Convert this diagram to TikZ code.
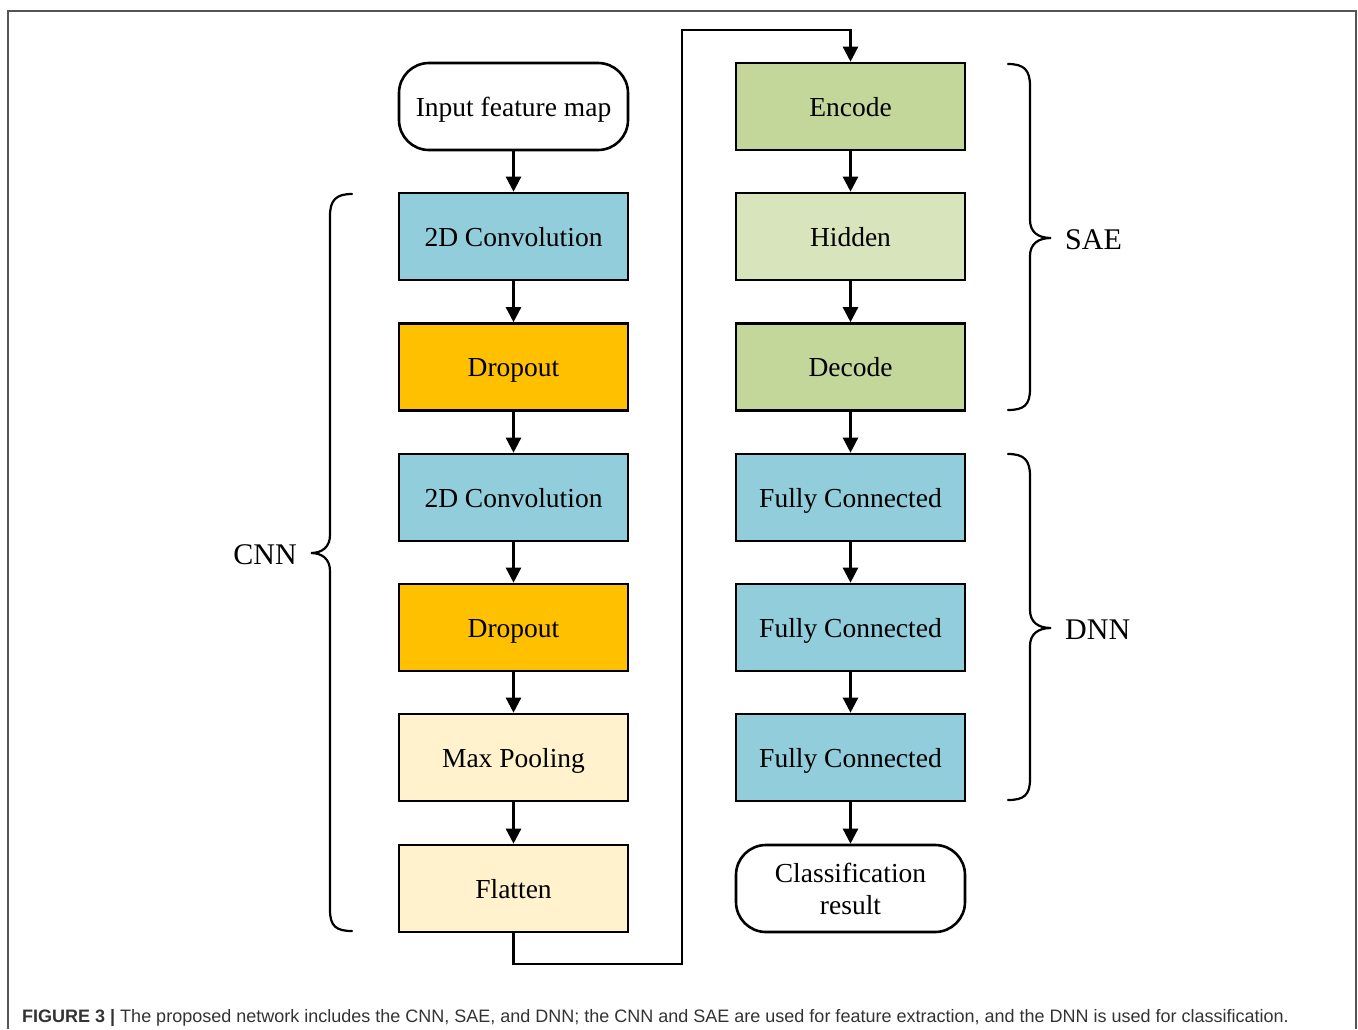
\documentclass[tikz,border=0pt]{standalone}
\usepackage{fontspec}
\setmainfont{Liberation Serif}
\newfontfamily\capfont{Liberation Sans}
\usetikzlibrary{arrows.meta}

\definecolor{convblue}{HTML}{92CDDC}
\definecolor{dropgold}{HTML}{FFC000}
\definecolor{poolcream}{HTML}{FFF2CC}
\definecolor{codegreen}{HTML}{C4D79B}
\definecolor{hidgreen}{HTML}{D8E4BC}
\definecolor{framegray}{HTML}{555555}
\definecolor{captext}{HTML}{333333}

\tikzset{
  shell/.style={draw=black, line width=2.6pt, minimum width=229pt, minimum height=87pt,
    inner sep=0pt, align=center, font=\fontsize{27.5}{33}\selectfont},
  layer/.style={shell, text height=21pt, text depth=2pt},
  terminal/.style={shell, rounded corners=30pt, fill=white},
  flow/.style={line width=2.4pt, -{Triangle[length=15pt,width=15pt]}},
  bracepath/.style={line width=2.2pt, line cap=round},
  grouplabel/.style={font=\fontsize{30}{36}\selectfont, inner sep=0pt}
}

\begin{document}
\begin{tikzpicture}[x=1pt, y=-1pt]
\useasboundingbox (0,0) rectangle (1358,1029);

% frame around the figure
\draw[framegray, line width=1.6pt] (8,1029) -- (8,11) -- (1356,11) -- (1356,1029);

% left column: CNN
\node[terminal, text height=21pt, text depth=2pt] (inp) at (513.5,106.5) {Input feature map};
\node[layer, fill=convblue]  (conv1) at (513.5,236.5) {2D Convolution};
\node[layer, fill=dropgold]  (drop1) at (513.5,367)   {Dropout};
\node[layer, fill=convblue]  (conv2) at (513.5,497.5) {2D Convolution};
\node[layer, fill=dropgold]  (drop2) at (513.5,627.5) {Dropout};
\node[layer, fill=poolcream] (pool)  at (513.5,757.5) {Max Pooling};
\node[layer, fill=poolcream] (flat)  at (513.5,888.5) {Flatten};

% right column: SAE and DNN
\node[layer, fill=codegreen] (enc) at (850.5,106.5) {Encode};
\node[layer, fill=hidgreen]  (hid) at (850.5,236.5) {Hidden};
\node[layer, fill=codegreen] (dec) at (850.5,367)   {Decode};
\node[layer, fill=convblue]  (fc1) at (850.5,497.5) {Fully Connected};
\node[layer, fill=convblue]  (fc2) at (850.5,627.5) {Fully Connected};
\node[layer, fill=convblue]  (fc3) at (850.5,757.5) {Fully Connected};
\node[terminal] (res) at (850.5,888.5) {Classification\\[-1pt]result};

% connectors
\draw[flow] (inp) -- (conv1);
\draw[flow] (conv1) -- (drop1);
\draw[flow] (drop1) -- (conv2);
\draw[flow] (conv2) -- (drop2);
\draw[flow] (drop2) -- (pool);
\draw[flow] (pool) -- (flat);
\coordinate (lo) at (682,964);
\coordinate (hi) at (682,30);
\draw[flow] (flat.south) |- (lo) -- (hi) -| (enc.north);
\draw[flow] (enc) -- (hid);
\draw[flow] (hid) -- (dec);
\draw[flow] (dec) -- (fc1);
\draw[flow] (fc1) -- (fc2);
\draw[flow] (fc2) -- (fc3);
\draw[flow] (fc3) -- (res);

% braces
\draw[bracepath] (352,194) .. controls (336,194) and (330,200) .. (330,216)
  -- (330,535) .. controls (330,547) and (322,553) .. (311,553)
  .. controls (322,553) and (330,559) .. (330,571)
  -- (330,910) .. controls (330,926) and (336,931) .. (352,931);
\draw[bracepath] (1008,64) .. controls (1024,64) and (1030,70) .. (1030,86)
  -- (1030,220) .. controls (1030,232) and (1038,238) .. (1051,238)
  .. controls (1038,238) and (1030,244) .. (1030,256)
  -- (1030,389) .. controls (1030,405) and (1024,410) .. (1008,410);
\draw[bracepath] (1008,454) .. controls (1024,454) and (1030,460) .. (1030,476)
  -- (1030,610) .. controls (1030,622) and (1038,628) .. (1051,628)
  .. controls (1038,628) and (1030,634) .. (1030,646)
  -- (1030,779) .. controls (1030,795) and (1024,800) .. (1008,800);

\node[grouplabel, anchor=east] (cnn) at (297,555) {CNN};
\node[grouplabel, anchor=west] (sae) at (1065,240) {SAE};
\node[grouplabel, anchor=west] (dnn) at (1065,630) {DNN};

% caption
\node[anchor=base west, inner sep=0pt, text=captext,
      font=\capfont\fontsize{18}{22}\selectfont] (cap) at (22,1022)
  {\textbf{FIGURE 3 |} The proposed network includes the CNN, SAE, and DNN; the CNN and SAE are used for feature extraction, and the DNN is used for classification.};
\end{tikzpicture}
\end{document}
